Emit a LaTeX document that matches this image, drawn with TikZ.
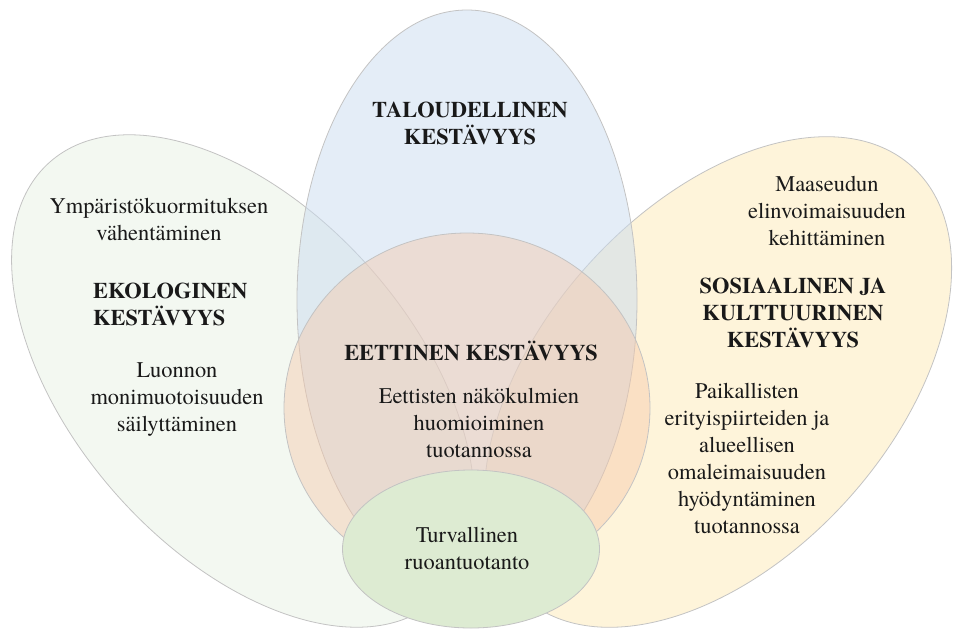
\documentclass[tikz,border=0pt]{standalone}
\usepackage{fontspec}
\setmainfont{texgyretermes}[Extension=.otf, UprightFont=*-regular, BoldFont=*-bold, ItalicFont=*-italic, BoldItalicFont=*-bolditalic]
\usetikzlibrary{shapes.geometric}

\definecolor{ecofill}{RGB}{231,241,227}
\definecolor{econfill}{RGB}{201,219,239}
\definecolor{socfill}{RGB}{253,233,181}
\definecolor{ethfill}{RGB}{245,200,170}
\definecolor{foodfill}{RGB}{221,235,210}
\definecolor{rimgrey}{RGB}{195,195,195}
\definecolor{inktext}{RGB}{25,25,25}

\begin{document}
\begin{tikzpicture}[x=1pt,y=-1pt,
  petal/.style={ellipse, draw=rimgrey, line width=0.8pt, inner sep=0pt, fill opacity=0.5},
  txt/.style={font=\fontsize{22.4}{27}\selectfont, align=center, text=inktext, inner sep=0pt},
  head/.style={txt, font=\fontsize{22.4}{27}\selectfont\bfseries}]
\useasboundingbox (0,0) rectangle (953,632);

% the four sustainability areas
\node[petal, fill=ecofill, minimum width=584pt, minimum height=340pt, rotate=-48.6] (eco) at (243,381) {};
\node[petal, fill=socfill, minimum width=580pt, minimum height=350pt, rotate=48] (soc) at (718,382) {};
\node[petal, fill=econfill, minimum width=340pt, minimum height=580pt] (econ) at (467,300) {};
\node[petal, fill=ethfill, fill opacity=0.45, minimum width=366pt, minimum height=350pt] (eth) at (467,408) {};
% food safety core
\node[ellipse, draw=rimgrey, line width=0.8pt, fill=foodfill, inner sep=0pt,
      minimum width=257pt, minimum height=158pt] (food) at (471,549) {};

% labels
\node[head] (econT) at (470,123) {TALOUDELLINEN\\KESTÄVYYS};
\node[txt] (ecoA) at (159,220) {Ympäristökuormituksen\\vähentäminen};
\node[head, align=left, anchor=west] (ecoT) at (93,304) {EKOLOGINEN\\KESTÄVYYS};
\node[txt] (ecoB) at (177,400) {Luonnon\\monimuotoisuuden\\säilyttäminen};
\node[head] (ethT) at (471,351) {EETTINEN KESTÄVYYS};
\node[txt] (ethA) at (479,423) {Eettisten näkökulmien\\huomioiminen\\tuotannossa};
\node[txt] (foodA) at (467,548) {Turvallinen\\ruoantuotanto};
\node[txt] (socA) at (827,211) {Maaseudun\\elinvoimaisuuden\\kehittäminen};
\node[head] (socT) at (793,313) {SOSIAALINEN JA\\KULTTUURINEN\\KESTÄVYYS};
\node[txt] (socB) at (747,458) {Paikallisten\\erityispiirteiden ja\\alueellisen\\omaleimaisuuden\\hyödyntäminen\\tuotannossa};
\end{tikzpicture}
\end{document}
